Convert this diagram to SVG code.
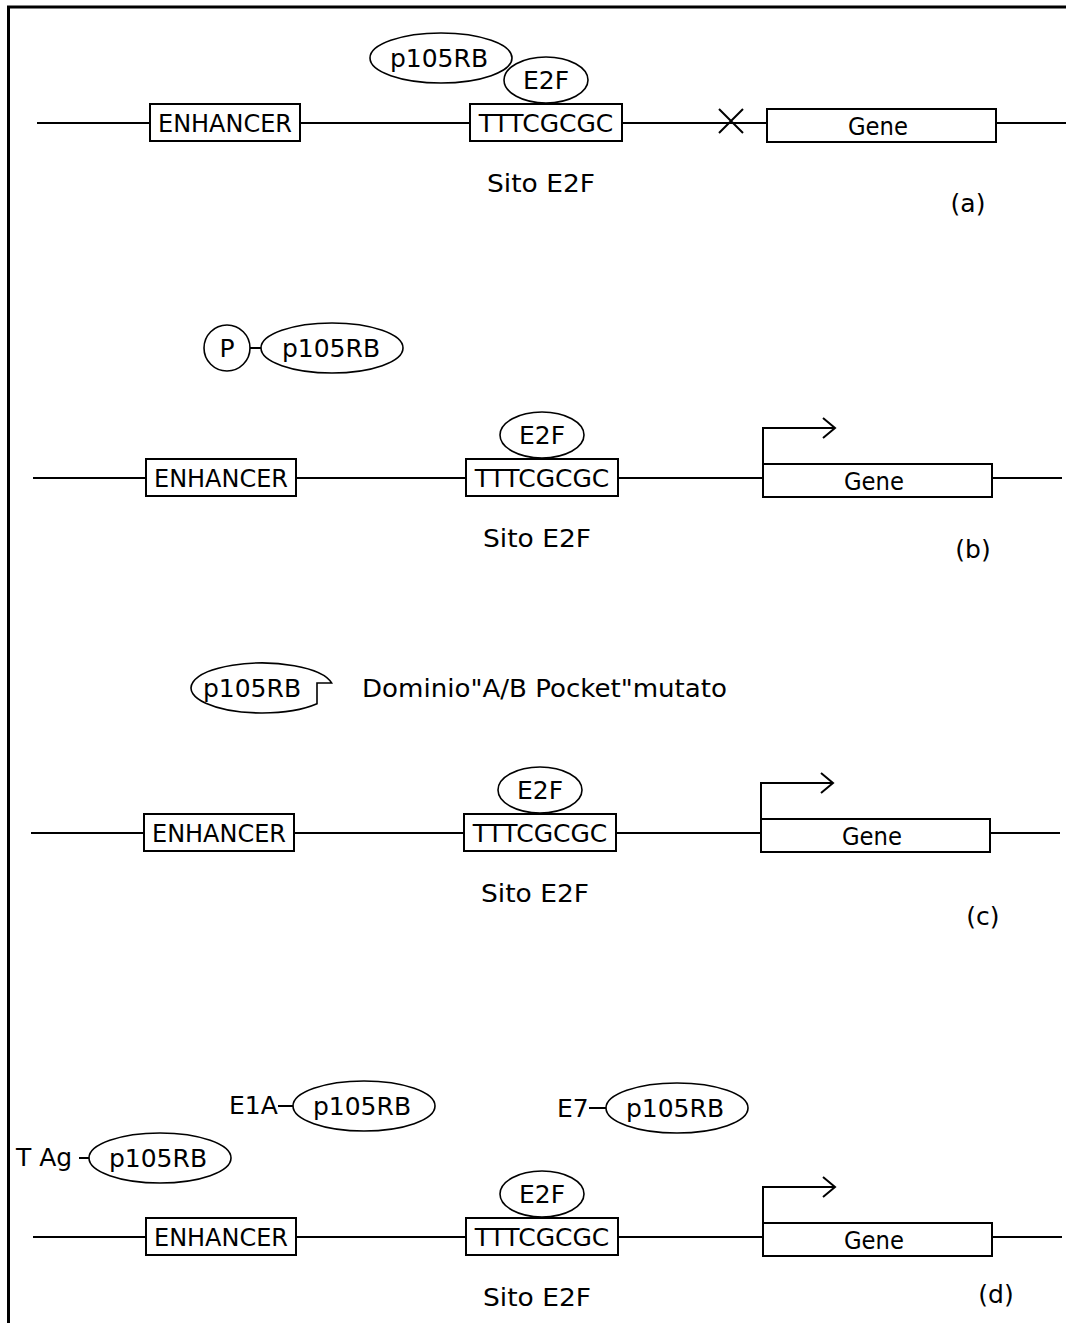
<svg xmlns="http://www.w3.org/2000/svg" width="1066" height="1323" viewBox="0 0 1066 1323">
<defs>
<style>
.bg{fill:#fff}
.ln{stroke:#000;stroke-width:2;fill:none}
.bx{stroke:#000;stroke-width:2;fill:#fff}
.el{stroke:#000;stroke-width:1.6;fill:#fff}
.t{font-family:"DejaVu Sans","Liberation Sans",sans-serif;font-size:25px;fill:#000}
.m{text-anchor:middle}
</style>
</defs>
<rect class="bg" x="0" y="0" width="1066" height="1323"/>
<g id="frame">
<line x1="7" y1="7" x2="1066" y2="7" stroke="#000" stroke-width="3"/>
<line x1="8.5" y1="6" x2="8.5" y2="1323" stroke="#000" stroke-width="3"/>
</g>
<g id="connectors">
<!-- panel a -->
<path class="ln" d="M37 123H150M300 123H470M622 123H767M996 123H1066"/>
<path class="ln" d="M719 109L743 133M719 133L743 109"/>
<!-- panel b -->
<path class="ln" d="M33 478H146M296 478H466M618 478H763M992 478H1062"/>
<path class="ln" d="M763 464V428H835M823 418L835 428L823 438"/>
<path class="ln" d="M250 348H262"/>
<!-- panel c -->
<path class="ln" d="M31 833H144M294 833H464M616 833H761M990 833H1060"/>
<path class="ln" d="M761 819V783H833M821 773L833 783L821 793"/>
<!-- panel d -->
<path class="ln" d="M33 1237H146M296 1237H466M618 1237H763M992 1237H1062"/>
<path class="ln" d="M763 1223V1187H835M823 1177L835 1187L823 1197"/>
<path class="ln" d="M278 1106H293M79 1158H89M589 1108H606"/>
</g>
<!-- Panel (a) -->
<g id="a-enhancer"><rect class="bx" x="150" y="104" width="150" height="37"/><text class="t m" x="225" y="132" textLength="134" lengthAdjust="spacingAndGlyphs">ENHANCER</text></g>
<g id="a-site"><rect class="bx" x="470" y="104" width="152" height="37"/><text class="t m" x="546" y="132">TTTCGCGC</text></g>
<g id="a-gene"><rect class="bx" x="767" y="109" width="229" height="33"/><text class="t m" x="878" y="135" textLength="60" lengthAdjust="spacingAndGlyphs">Gene</text></g>
<g id="a-p105RB"><ellipse class="el" cx="441" cy="58" rx="71" ry="25"/><text class="t m" x="439" y="67">p105RB</text></g>
<g id="a-E2F"><ellipse class="el" cx="546" cy="80" rx="42" ry="23"/><text class="t m" x="546" y="89">E2F</text></g>
<text class="t m" x="541" y="192" textLength="108" lengthAdjust="spacingAndGlyphs">Sito E2F</text>
<text class="t m" x="968" y="212">(a)</text>
<!-- Panel (b) -->
<g id="b-P"><circle class="el" cx="227" cy="348" r="23"/><text class="t m" x="227" y="357">P</text></g>
<g id="b-p105RB"><ellipse class="el" cx="332" cy="348" rx="71" ry="25"/><text class="t m" x="331" y="357">p105RB</text></g>
<g id="b-enhancer"><rect class="bx" x="146" y="459" width="150" height="37"/><text class="t m" x="221" y="487" textLength="134" lengthAdjust="spacingAndGlyphs">ENHANCER</text></g>
<g id="b-site"><rect class="bx" x="466" y="459" width="152" height="37"/><text class="t m" x="542" y="487">TTTCGCGC</text></g>
<g id="b-gene"><rect class="bx" x="763" y="464" width="229" height="33"/><text class="t m" x="874" y="490" textLength="60" lengthAdjust="spacingAndGlyphs">Gene</text></g>
<g id="b-E2F"><ellipse class="el" cx="542" cy="435" rx="42" ry="23"/><text class="t m" x="542" y="444">E2F</text></g>
<text class="t m" x="537" y="547" textLength="108" lengthAdjust="spacingAndGlyphs">Sito E2F</text>
<text class="t m" x="973" y="558">(b)</text>
<!-- Panel (c) -->
<g id="c-p105RB"><path class="el" d="M317 703.8V683H331.6A71 25 0 1 0 317 703.8Z"/><text class="t m" x="252" y="697">p105RB</text></g>
<text class="t" x="362" y="697" textLength="365" lengthAdjust="spacingAndGlyphs">Dominio"A/B Pocket"mutato</text>
<g id="c-enhancer"><rect class="bx" x="144" y="814" width="150" height="37"/><text class="t m" x="219" y="842" textLength="134" lengthAdjust="spacingAndGlyphs">ENHANCER</text></g>
<g id="c-site"><rect class="bx" x="464" y="814" width="152" height="37"/><text class="t m" x="540" y="842">TTTCGCGC</text></g>
<g id="c-gene"><rect class="bx" x="761" y="819" width="229" height="33"/><text class="t m" x="872" y="845" textLength="60" lengthAdjust="spacingAndGlyphs">Gene</text></g>
<g id="c-E2F"><ellipse class="el" cx="540" cy="790" rx="42" ry="23"/><text class="t m" x="540" y="799">E2F</text></g>
<text class="t m" x="535" y="902" textLength="108" lengthAdjust="spacingAndGlyphs">Sito E2F</text>
<text class="t m" x="983" y="925">(c)</text>
<!-- Panel (d) -->
<g id="d-E1A"><text class="t" x="229" y="1114">E1A</text><ellipse class="el" cx="364" cy="1106" rx="71" ry="25"/><text class="t m" x="362" y="1115">p105RB</text></g>
<g id="d-TAg"><text class="t" x="16" y="1166">T Ag</text><ellipse class="el" cx="160" cy="1158" rx="71" ry="25"/><text class="t m" x="158" y="1167">p105RB</text></g>
<g id="d-E7"><text class="t" x="557" y="1117">E7</text><ellipse class="el" cx="677" cy="1108" rx="71" ry="25"/><text class="t m" x="675" y="1117">p105RB</text></g>
<g id="d-enhancer"><rect class="bx" x="146" y="1218" width="150" height="37"/><text class="t m" x="221" y="1246" textLength="134" lengthAdjust="spacingAndGlyphs">ENHANCER</text></g>
<g id="d-site"><rect class="bx" x="466" y="1218" width="152" height="37"/><text class="t m" x="542" y="1246">TTTCGCGC</text></g>
<g id="d-gene"><rect class="bx" x="763" y="1223" width="229" height="33"/><text class="t m" x="874" y="1249" textLength="60" lengthAdjust="spacingAndGlyphs">Gene</text></g>
<g id="d-E2F"><ellipse class="el" cx="542" cy="1194" rx="42" ry="23"/><text class="t m" x="542" y="1203">E2F</text></g>
<text class="t m" x="537" y="1306" textLength="108" lengthAdjust="spacingAndGlyphs">Sito E2F</text>
<text class="t m" x="996" y="1303">(d)</text>
</svg>
